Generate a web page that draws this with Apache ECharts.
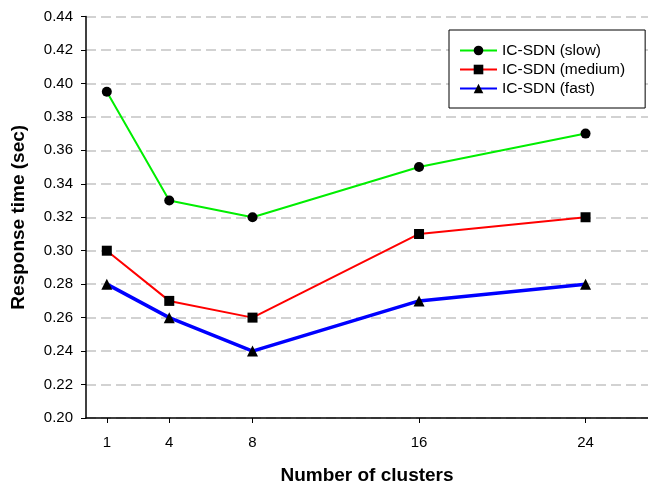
<!DOCTYPE html>
<html>
<head>
<meta charset="utf-8">
<script src="https://cdn.jsdelivr.net/npm/echarts@6/dist/echarts.min.js"></script>
<style>html,body{margin:0;padding:0;background:#fff}#c{width:648px;height:490px}</style>
</head>
<body>
<div id="c"></div>
<script>
const clusters = [1, 4, 8, 16, 24];
const slow = [0.395, 0.33, 0.32, 0.35, 0.37];
const medium = [0.30, 0.27, 0.26, 0.31, 0.32];
const fast = [0.28, 0.26, 0.24, 0.27, 0.28];
const seriesNames = ['IC-SDN (slow)', 'IC-SDN (medium)', 'IC-SDN (fast)'];
const xTicks = [1, 4, 8, 16, 24];

const pair = arr => clusters.map((c, i) => [c, arr[i]]);
const font = 'Arial, "Liberation Sans", sans-serif';

const chart = echarts.init(document.getElementById('c'), null, {renderer: 'canvas'});
chart.setOption({
  animation: false,
  backgroundColor: '#fff',
  grid: {left: 86, right: 0, top: 16.5, bottom: 67, containLabel: false},
  legend: {
    left: 449, top: 30,
    orient: 'vertical',
    backgroundColor: '#fff',
    borderColor: '#000', borderWidth: 1,
    padding: [11, 20, 10, 10],
    itemGap: 0,
    itemWidth: 37, itemHeight: 12,
    textStyle: {fontFamily: font, fontSize: 15.5, lineHeight: 19, color: '#000'},
    data: seriesNames
  },
  xAxis: {
    type: 'value', min: 0, max: 27,
    name: 'Number of clusters', nameLocation: 'middle', nameGap: 48,
    nameTextStyle: {fontFamily: font, fontSize: 19, fontWeight: 'bold', color: '#000'},
    axisLine: {lineStyle: {color: '#000', width: 1.5}},
    axisTick: {show: true, length: 5, lineStyle: {color: '#000'}, customValues: xTicks},
    axisLabel: {fontFamily: font, fontSize: 15, color: '#000', margin: 17, customValues: xTicks},
    splitLine: {show: false}
  },
  yAxis: {
    type: 'value', min: 0.2, max: 0.44, interval: 0.02,
    name: 'Response time (sec)', nameLocation: 'middle', nameGap: 58, nameRotate: 90,
    nameTextStyle: {fontFamily: font, fontSize: 19, fontWeight: 'bold', color: '#000'},
    axisLine: {show: true, lineStyle: {color: '#000', width: 1.5}},
    axisTick: {show: true, length: 5, lineStyle: {color: '#000'}},
    axisLabel: {fontFamily: font, fontSize: 15, color: '#000', margin: 13,
      formatter: v => v.toFixed(2)},
    splitLine: {show: true, lineStyle: {color: '#c4c4c4', width: 1.5, type: [10, 5]}}
  },
  series: [
    {name: seriesNames[0], type: 'line', data: pair(slow), symbol: 'circle', symbolSize: 10,
      itemStyle: {color: '#000'}, lineStyle: {color: '#00ee00', width: 2}},
    {name: seriesNames[1], type: 'line', data: pair(medium), symbol: 'rect', symbolSize: 10,
      itemStyle: {color: '#000'}, lineStyle: {color: '#ff0000', width: 2}},
    {name: seriesNames[2], type: 'line', data: pair(fast), symbol: 'triangle', symbolSize: 11,
      itemStyle: {color: '#000'}, lineStyle: {color: '#0000ff', width: 3.5}}
  ]
});
</script>
</body>
</html>
